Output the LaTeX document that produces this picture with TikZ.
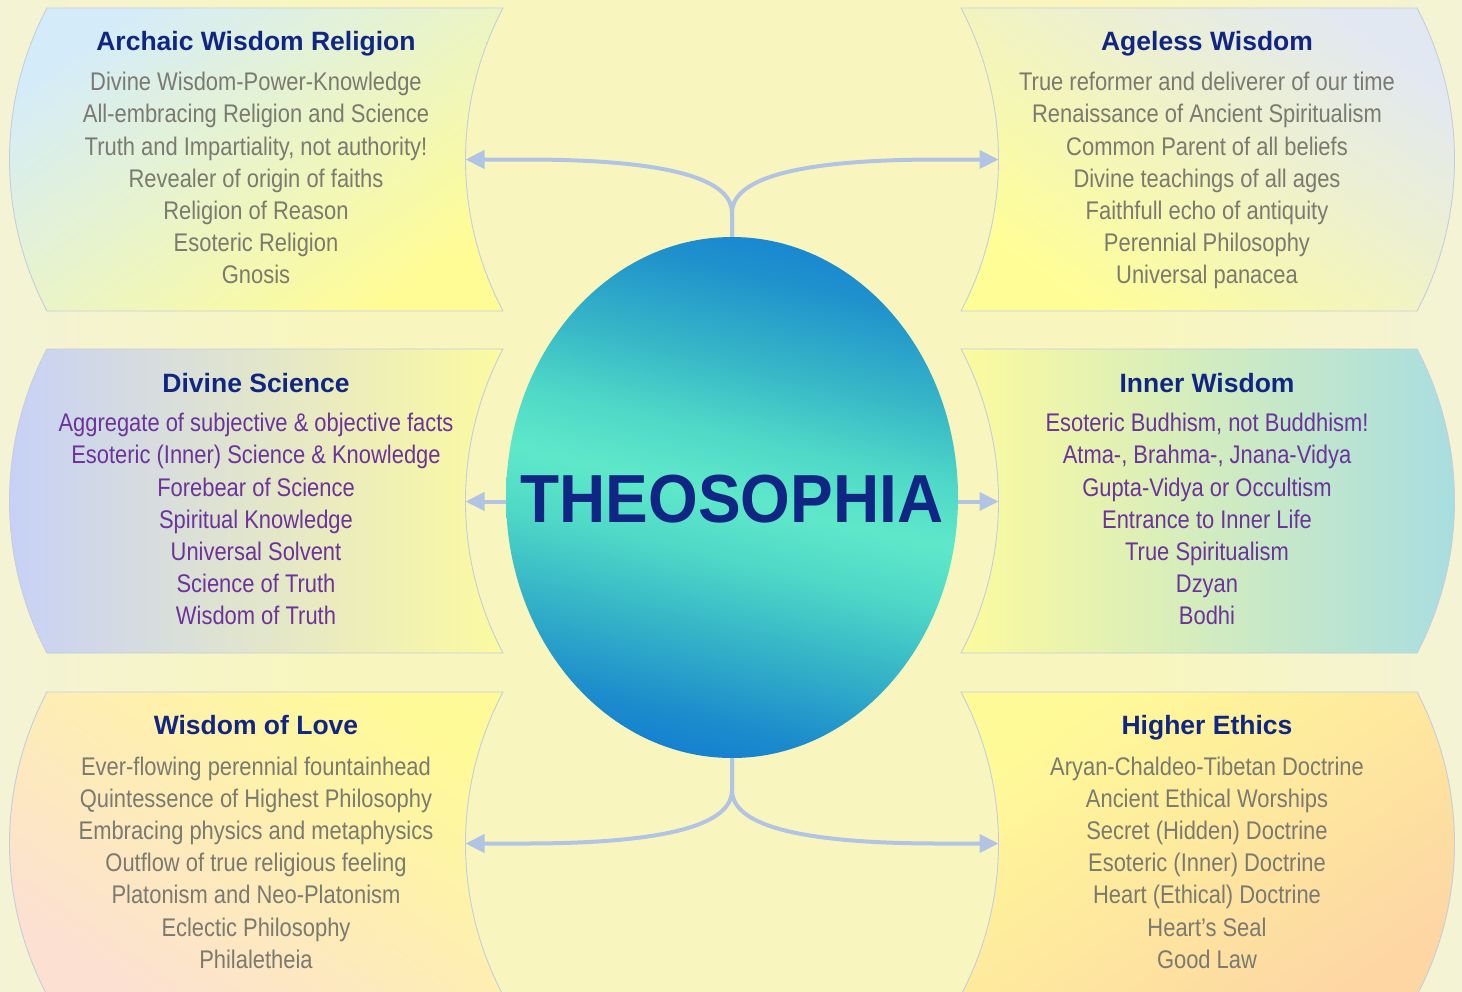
\documentclass[tikz,border=0pt]{standalone}
\usepackage{fontspec}
\setmainfont{Liberation Sans}
\newfontfamily\bodyfont[FakeStretch=0.86]{Liberation Sans}
\newfontfamily\headfont{Liberation Sans}
\newfontfamily\orbfont[FakeStretch=0.94]{Liberation Sans}
\usetikzlibrary{arrows.meta,shapes.geometric,fadings}

\definecolor{navy}{RGB}{16,38,130}
\definecolor{txtgray}{RGB}{122,122,112}
\definecolor{txtpurple}{RGB}{108,52,155}
\definecolor{conncol}{RGB}{178,196,228}
\definecolor{edgecol}{RGB}{196,206,222}
\definecolor{vigcol}{RGB}{20,80,150}
\definecolor{tlA}{RGB}{212,236,250}
\definecolor{tlM}{RGB}{226,241,232}
\definecolor{tlB}{RGB}{255,252,150}
\definecolor{trA}{RGB}{226,232,242}
\definecolor{trM}{RGB}{236,241,226}
\definecolor{trB}{RGB}{255,254,150}
\definecolor{mlA}{RGB}{198,208,248}
\definecolor{mlB}{RGB}{252,250,160}
\definecolor{mrA}{RGB}{252,250,158}
\definecolor{mrB}{RGB}{166,221,226}
\definecolor{blA}{RGB}{255,250,152}
\definecolor{blM}{RGB}{253,228,200}
\definecolor{blB}{RGB}{252,224,210}
\definecolor{brA}{RGB}{255,250,152}
\definecolor{brM}{RGB}{253,220,170}
\definecolor{brB}{RGB}{253,214,164}

\pgfdeclarehorizontalshading{bgsh}{100bp}{rgb(0bp)=(0.937,0.937,0.918); rgb(22bp)=(0.95,0.948,0.86); rgb(36bp)=(0.973,0.965,0.745); rgb(64bp)=(0.973,0.965,0.745); rgb(78bp)=(0.95,0.948,0.86); rgb(100bp)=(0.937,0.937,0.918)}
\pgfdeclareverticalshading{orbsh}{100bp}{rgb(0bp)=(0.02,0.40,0.86); rgb(18bp)=(0.04,0.43,0.85); rgb(28bp)=(0.11,0.55,0.80); rgb(37bp)=(0.22,0.72,0.78); rgb(44bp)=(0.31,0.85,0.78); rgb(50bp)=(0.37,0.91,0.79); rgb(56bp)=(0.31,0.85,0.78); rgb(63bp)=(0.22,0.72,0.78); rgb(72bp)=(0.12,0.57,0.80); rgb(82bp)=(0.07,0.47,0.86); rgb(100bp)=(0.07,0.46,0.88)}
\pgfdeclareradialshading{vigsh}{\pgfpoint{0bp}{0bp}}{rgb(0bp)=(0,0,0); rgb(36bp)=(0,0,0); rgb(50bp)=(1,1,1)}
\pgfdeclarefading{vigfade}{\pgfuseshading{vigsh}}

\tikzset{
  ttl/.style={font=\headfont\bfseries\fontsize{26.5}{30}\selectfont, text=navy, anchor=base, inner sep=0pt},
  bodyg/.style={font=\bodyfont\fontsize{25.5}{30}\selectfont, text=txtgray, anchor=base, inner sep=0pt},
  bodyp/.style={bodyg, text=txtpurple},
  conn/.style={draw=conncol, line width=4pt, -{Triangle[length=19pt,width=18pt]}},
  panel/.style={draw=edgecol, line width=0.9pt},
  orb/.style={ellipse, minimum width=452pt, minimum height=521pt, inner sep=0pt,
    path picture={
      \shade[shading=orbsh, shading angle=-13] (path picture bounding box.south west) rectangle (path picture bounding box.north east);
      \fill[vigcol, path fading=vigfade, fill opacity=0.4] (path picture bounding box.south west) rectangle (path picture bounding box.north east);
    }},
  bigttl/.style={font=\orbfont\bfseries\fontsize{68}{70}\selectfont, text=navy, anchor=base, inner sep=0pt},
}

\begin{document}
\begin{tikzpicture}[x=1pt,y=1pt]
\useasboundingbox (0,0) rectangle (1462,-991);
\clip (0,0) rectangle (1462,-991);
\shade[shading=bgsh] (0,0) rectangle (1462,-991);

% panels
\path[panel, top color=tlA, middle color=tlM, bottom color=tlB, shading angle=35]
  (47,-8) -- (503,-8) .. controls (453,-102.8) and (453,-216.2) .. (503,-311)
  -- (47,-311) .. controls (-3,-216.2) and (-3,-102.8) .. (47,-8) -- cycle;
\path[panel, left color=mlA, right color=mlB]
  (47,-349) -- (503,-349) .. controls (453,-443.8) and (453,-558.2) .. (503,-653)
  -- (47,-653) .. controls (-3,-558.2) and (-3,-443.8) .. (47,-349) -- cycle;
\path[panel, top color=blA, middle color=blM, bottom color=blB, shading angle=-35]
  (47,-692) -- (503,-692) .. controls (453,-786.8) and (453,-900.2) .. (503,-995)
  -- (47,-995) .. controls (-3,-900.2) and (-3,-786.8) .. (47,-692) -- cycle;
\path[panel, top color=trA, middle color=trM, bottom color=trB, shading angle=-35]
  (961,-8) -- (1417,-8) .. controls (1467,-102.8) and (1467,-216.2) .. (1417,-311)
  -- (961,-311) .. controls (1011,-216.2) and (1011,-102.8) .. (961,-8) -- cycle;
\path[panel, left color=mrA, right color=mrB]
  (961,-349) -- (1417,-349) .. controls (1467,-443.8) and (1467,-558.2) .. (1417,-653)
  -- (961,-653) .. controls (1011,-558.2) and (1011,-443.8) .. (961,-349) -- cycle;
\path[panel, top color=brA, middle color=brM, bottom color=brB, shading angle=35]
  (961,-692) -- (1417,-692) .. controls (1467,-786.8) and (1467,-900.2) .. (1417,-995)
  -- (961,-995) .. controls (1011,-900.2) and (1011,-786.8) .. (961,-692) -- cycle;

% arrow targets on the panels' inner edges
\coordinate (tlin) at (465.5,-159.5);
\coordinate (trin) at (998.5,-159.5);
\coordinate (mlin) at (465.5,-501.5);
\coordinate (mrin) at (998.5,-501.5);
\coordinate (blin) at (465.5,-843.5);
\coordinate (brin) at (998.5,-843.5);

% central orb
\node[orb] (theo) at (732,-497.5) {};
\node[bigttl] (theolbl) at (732,-522) {THEOSOPHIA};

% connectors
\coordinate (tj) at (732,-213);
\coordinate (tjL) at (525,-159.5);
\coordinate (tjR) at (939,-159.5);
\coordinate (bj) at (732,-790);
\coordinate (bjL) at (525,-843.5);
\coordinate (bjR) at (939,-843.5);
\draw[conn] (theo.north) -- (tj) .. controls +(0,28) and +(165,0) .. (tjL) -- (tlin);
\draw[conn] (theo.north) -- (tj) .. controls +(0,28) and +(-165,0) .. (tjR) -- (trin);
\draw[conn] (theo.south) -- (bj) .. controls +(0,-28) and +(165,0) .. (bjL) -- (blin);
\draw[conn] (theo.south) -- (bj) .. controls +(0,-28) and +(-165,0) .. (bjR) -- (brin);
\draw[conn] (theo.west |- mlin) -- (mlin);
\draw[conn] (theo.east |- mrin) -- (mrin);

% top-left
\node[ttl] (tlT) at (256,-50.7) {Archaic Wisdom Religion};
\foreach \s [count=\i] in {Divine Wisdom-Power-Knowledge, All-embracing Religion and Science, {Truth and Impartiality, not authority!}, Revealer of origin of faiths, Religion of Reason, Esoteric Religion, Gnosis}
  \node[bodyg] (tl\i) at (256,{-90.7-32.2*(\i-1)}) {\s};
% top-right
\node[ttl] (trT) at (1207,-50.7) {Ageless Wisdom};
\foreach \s [count=\i] in {True reformer and deliverer of our time, Renaissance of Ancient Spiritualism, Common Parent of all beliefs, Divine teachings of all ages, Faithfull echo of antiquity, Perennial Philosophy, Universal panacea}
  \node[bodyg] (tr\i) at (1207,{-90.7-32.2*(\i-1)}) {\s};
% middle-left
\node[ttl] (mlT) at (256,-392.7) {Divine Science};
\foreach \s [count=\i] in {Aggregate of subjective \& objective facts, Esoteric (Inner) Science \& Knowledge, Forebear of Science, Spiritual Knowledge, Universal Solvent, Science of Truth, Wisdom of Truth}
  \node[bodyp] (ml\i) at (256,{-431.7-32.2*(\i-1)}) {\s};
% middle-right
\node[ttl] (mrT) at (1207,-392.7) {Inner Wisdom};
\foreach \s [count=\i] in {{Esoteric Budhism, not Buddhism!}, {Atma-, Brahma-, Jnana-Vidya}, Gupta-Vidya or Occultism, Entrance to Inner Life, True Spiritualism, Dzyan, Bodhi}
  \node[bodyp] (mr\i) at (1207,{-431.7-32.2*(\i-1)}) {\s};
% bottom-left
\node[ttl] (blT) at (256,-734) {Wisdom of Love};
\foreach \s [count=\i] in {Ever-flowing perennial fountainhead, Quintessence of Highest Philosophy, Embracing physics and metaphysics, Outflow of true religious feeling, Platonism and Neo-Platonism, Eclectic Philosophy, Philaletheia}
  \node[bodyg] (bl\i) at (256,{-775-32.2*(\i-1)}) {\s};
% bottom-right
\node[ttl] (brT) at (1207,-734) {Higher Ethics};
\foreach \s [count=\i] in {Aryan-Chaldeo-Tibetan Doctrine, Ancient Ethical Worships, Secret (Hidden) Doctrine, Esoteric (Inner) Doctrine, Heart (Ethical) Doctrine, Heart’s Seal, Good Law}
  \node[bodyg] (br\i) at (1207,{-775-32.2*(\i-1)}) {\s};
\end{tikzpicture}
\end{document}
